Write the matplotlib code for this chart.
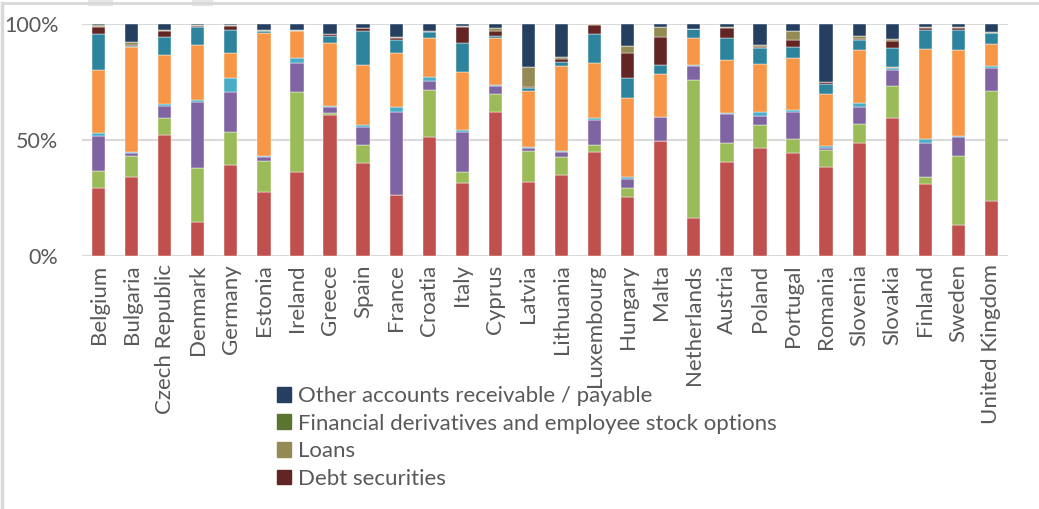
import matplotlib
matplotlib.use("Agg")
import matplotlib.pyplot as plt
from matplotlib.lines import Line2D
from matplotlib.patches import Patch, Rectangle
import numpy as np

plt.rcParams['font.family'] = ['Lato', 'DejaVu Sans']

countries = ["Belgium", "Bulgaria", "Czech Republic", "Denmark", "Germany", "Estonia",
             "Ireland", "Greece", "Spain", "France", "Croatia", "Italy", "Cyprus",
             "Latvia", "Lithuania", "Luxembourg", "Hungary", "Malta", "Netherlands",
             "Austria", "Poland", "Portugal", "Romania", "Slovenia", "Slovakia",
             "Finland", "Sweden", "United Kingdom"]

# shares in %, bottom to top of each bar
currency_deposits = [29.2, 34.2, 52.2, 14.8, 39.1, 27.7, 36.4, 60.8, 39.9, 26.3, 51.1, 31.3, 62.2, 31.8,
                     34.9, 44.7, 25.3, 49.6, 16.5, 40.4, 46.4, 44.5, 38.2, 48.9, 59.6, 31.2, 13.4, 23.9]
pension = [7.6, 9.0, 7.4, 23.0, 14.5, 13.2, 34.4, 0.7, 7.9, 0.2, 20.5, 5.1, 7.6, 13.5,
           7.8, 3.1, 3.9, 0.1, 59.4, 8.5, 10.1, 5.9, 7.5, 7.9, 13.8, 3.0, 29.8, 47.1]
life_insurance = [15.1, 1.1, 4.9, 28.4, 16.9, 1.9, 12.5, 2.9, 7.7, 35.7, 4.0, 16.9, 3.5, 1.1,
                  2.0, 10.8, 3.8, 10.1, 6.0, 12.2, 4.0, 11.8, 1.0, 7.3, 6.6, 14.7, 7.9, 9.9]
non_life = [1.1, 0.7, 0.9, 0.9, 6.1, 0.3, 1.9, 0.4, 1.0, 1.9, 1.4, 1.0, 0.4, 0.6,
            0.7, 0.7, 0.9, 0.2, 0.4, 0.7, 1.7, 0.7, 0.9, 1.7, 0.9, 1.5, 0.8, 0.9]
equity = [27.2, 44.9, 21.2, 23.8, 11.0, 52.9, 11.9, 26.9, 25.8, 23.3, 17.1, 24.9, 20.4, 24.1,
          36.6, 24.0, 34.3, 18.3, 11.5, 22.7, 20.6, 22.6, 22.4, 23.0, 0.6, 39.0, 37.0, 9.6]
fund_shares = [15.5, 0.7, 7.7, 7.7, 9.8, 1.0, 0.2, 3.0, 14.8, 5.7, 2.6, 12.5, 0.7, 1.2,
               1.8, 12.2, 8.4, 4.0, 4.0, 9.3, 7.0, 4.4, 4.1, 4.3, 8.3, 8.0, 8.5, 4.6]
debt_securities = [3.2, 0.2, 2.8, 0.5, 1.9, 0.1, 0.1, 1.0, 1.0, 1.0, 0.1, 7.2, 2.2, 0.7,
                   1.0, 4.1, 10.8, 12.0, 0.1, 4.6, 0.4, 3.2, 1.0, 0.4, 3.0, 1.0, 0.7, 0.1]
loans = [0.4, 1.3, 0.3, 0.6, 0.1, 0.5, 0.2, 0.1, 0.1, 0.1, 0.1, 0.4, 1.1, 8.3,
         0.8, 0.3, 3.1, 4.3, 0.1, 0.5, 0.8, 4.0, 0.0, 1.5, 0.7, 0.1, 0.6, 0.6]
derivatives = [0.1, 0.1, 0.0, 0.0, 0.0, 0.0, 0.0, 0.0, 0.0, 0.0, 0.0, 0.0, 0.0, 0.0,
               0.0, 0.0, 0.0, 0.0, 0.0, 0.0, 0.0, 0.0, 0.0, 0.0, 0.0, 0.0, 0.0, 0.0]
other_accounts = [0.6, 7.8, 2.6, 0.3, 0.6, 2.4, 2.4, 4.2, 1.8, 5.8, 3.1, 0.7, 1.9, 18.7,
                  14.4, 0.1, 9.5, 1.4, 2.0, 1.1, 9.0, 2.9, 24.9, 5.0, 6.5, 1.5, 1.3, 3.3]

series = [
    ("Currency and deposits", currency_deposits, "#C0504D"),
    ("Pension entitlements", pension, "#9BBB59"),
    ("Life insurance and annuity entitlements", life_insurance, "#8064A2"),
    ("Non-life insurance technical reserves", non_life, "#4BACC6"),
    ("Equity", equity, "#F79646"),
    ("Investment fund shares", fund_shares, "#2E849C"),
    ("Debt securities", debt_securities, "#632523"),
    ("Loans", loans, "#948A54"),
    ("Financial derivatives and employee stock options", derivatives, "#5A7530"),
    ("Other accounts receivable / payable", other_accounts, "#243F60"),
]

grey = "#595959"
fig = plt.figure(figsize=(10.39, 5.09), dpi=100)
ax = fig.add_axes([82/1039, 1-256/509, 926/1039, 232/509])

x = np.arange(len(countries))
bottom = np.zeros(len(countries))
for name, vals, col in series:
    v = np.array(vals)
    ax.bar(x, v, 0.4, bottom=bottom, color=col, edgecolor="white", linewidth=0.3, zorder=3)
    bottom += v

ax.set_xlim(-0.5, len(countries) - 0.5)
ax.set_ylim(0, 100)
ax.set_yticks([0, 50, 100])
ax.set_yticklabels(["0%", "50%", "100%"])
ax.set_xticks(x)
ax.set_xticklabels(countries, rotation=90)
ax.tick_params(axis="y", length=0, pad=17, labelsize=15.5, labelcolor=grey)
ax.tick_params(axis="x", length=0, pad=6, labelsize=16, labelcolor=grey)
ax.grid(axis="y", color="#d9d9d9", linewidth=1.5, zorder=0)
for s in ax.spines.values():
    s.set_visible(False)

# legend (only the top four entries are visible in the crop)
shown = series[::-1][:4]
handles = [Patch(facecolor=c, edgecolor=c) for _, _, c in shown]
labels = [n for n, _, _ in shown]
fig.legend(handles, labels, loc="upper left", bbox_to_anchor=(277/1039, 1-386/509),
           frameon=False, fontsize=16, labelcolor=grey, handlelength=0.64, handleheight=0.64,
           handletextpad=0.3, labelspacing=0.34, borderpad=0, borderaxespad=0)

# outer frame of the chart area
fig.add_artist(Line2D([2/1039, 2/1039], [0, 1-3/509], color="#d9d9d9", linewidth=2.5))
fig.add_artist(Line2D([2/1039, 1], [1-3/509, 1-3/509], color="#d9d9d9", linewidth=2))
fig.add_artist(Rectangle((88/1039, 1-5/509), 24/1039, 5/509, color="#e6e6e6", transform=fig.transFigure))
fig.add_artist(Rectangle((192/1039, 1-5/509), 20/1039, 5/509, color="#e6e6e6", transform=fig.transFigure))

fig.savefig("out.png", dpi=100)
